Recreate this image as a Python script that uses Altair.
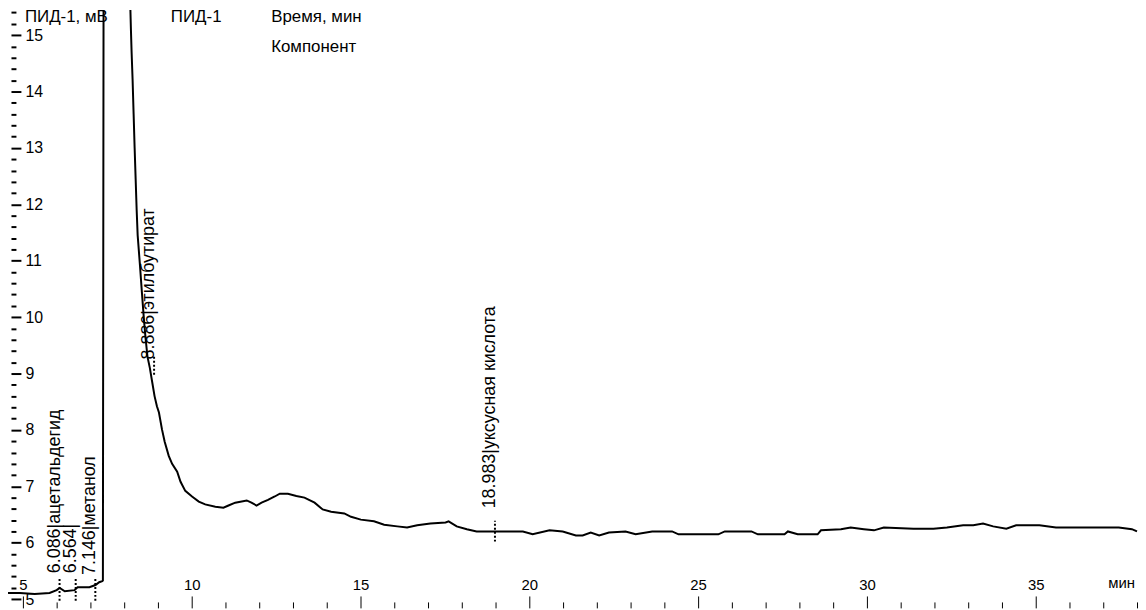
import altair as alt
import pandas as pd

# ---- chromatogram trace (time, min / signal, mV) ----
time_min = [4.56, 4.91, 5.35, 5.79, 6.00, 6.09, 6.24, 6.53, 6.62, 6.97, 7.15, 7.26, 7.35, 7.37,
            7.39, 8.16, 8.20, 8.22, 8.25, 8.28, 8.31, 8.34, 8.37, 8.40, 8.47, 8.53, 8.58, 8.63,
            8.69, 8.76, 8.83, 8.90, 8.97, 9.03, 9.12, 9.20, 9.32, 9.42, 9.57, 9.67, 9.81, 10.01,
            10.21, 10.40, 10.70, 10.94, 11.09, 11.29, 11.63, 11.77, 11.92, 12.07, 12.26, 12.46,
            12.61, 12.85, 13.10, 13.34, 13.64, 13.88, 14.13, 14.52, 14.72, 15.01, 15.40, 15.70,
            16.09, 16.38, 16.68, 17.07, 17.52, 17.61, 17.85, 18.15, 18.44, 18.88, 19.22, 19.81,
            20.10, 20.60, 20.99, 21.38, 21.58, 21.82, 22.07, 22.36, 22.85, 23.15, 23.64, 24.23,
            24.42, 25.60, 25.79, 26.58, 26.77, 27.56, 27.66, 27.95, 28.54, 28.64, 29.23, 29.52,
            29.91, 30.21, 30.50, 31.38, 31.97, 32.37, 32.85, 33.15, 33.44, 33.74, 34.13, 34.42,
            35.11, 35.60, 36.09, 36.87, 37.46, 37.85, 38.00]
signal_mv = [5.11, 5.11, 5.09, 5.11, 5.16, 5.20, 5.14, 5.16, 5.21, 5.21, 5.25, 5.30, 5.32, 5.33,
             16.0, 16.0, 15.10, 14.70, 14.20, 13.60, 13.00, 12.45, 11.90, 11.45, 10.90, 10.40,
             10.00, 9.65, 9.30, 9.10, 8.85, 8.60, 8.42, 8.31, 8.01, 7.79, 7.54, 7.40, 7.26, 7.08,
             6.92, 6.82, 6.73, 6.68, 6.64, 6.62, 6.66, 6.71, 6.75, 6.71, 6.66, 6.71, 6.76, 6.82,
             6.87, 6.87, 6.83, 6.80, 6.71, 6.59, 6.55, 6.52, 6.46, 6.41, 6.38, 6.32, 6.29, 6.27,
             6.31, 6.34, 6.36, 6.38, 6.29, 6.24, 6.20, 6.20, 6.20, 6.20, 6.15, 6.22, 6.20, 6.13,
             6.13, 6.18, 6.13, 6.18, 6.20, 6.15, 6.20, 6.20, 6.15, 6.15, 6.20, 6.20, 6.15, 6.15,
             6.20, 6.15, 6.15, 6.22, 6.24, 6.27, 6.24, 6.22, 6.27, 6.25, 6.25, 6.27, 6.31, 6.31,
             6.34, 6.29, 6.25, 6.31, 6.31, 6.27, 6.27, 6.27, 6.27, 6.24, 6.20]

# ---- identified peaks ----
peak_rt = [6.086, 6.564, 7.146, 8.886, 18.983]
peak_name = ["ацетальдегид", "", "метанол", "этилбутират", "уксусная кислота"]
label_start_mv = [5.46, 5.46, 5.43, 9.25, 6.61]
marker_low_mv = [4.97, 4.97, 4.97, 8.98, 6.02]
marker_high_mv = [5.37, 5.37, 5.37, 9.33, 6.39]

# ---- axes ----
x_ticks = list(range(5, 39))          # every minute, labels every 5
y_ticks = [round(5 + 0.2 * i, 1) for i in range(0, 53)]   # every 0.2 mV, labels every 1
X_DOMAIN = [4.559, 38.03]
Y_DOMAIN = [4.845, 15.444]

header_text = ["ПИД-1, мВ", "ПИД-1", "Время, мин", "Компонент"]
header_px = [17, 164, 265, 265]
header_py = [7, 7, 7, 37]

W, H = 1138, 602
FONT = "Liberation Sans"

trace = pd.DataFrame({"time": time_min, "signal": signal_mv})
peaks = pd.DataFrame({
    "rt": peak_rt,
    "label": [f"{rt:.3f}|{n}" for rt, n in zip(peak_rt, peak_name)],
    "start": label_start_mv,
    "low": marker_low_mv,
    "high": marker_high_mv,
})

xs = alt.Scale(domain=X_DOMAIN, nice=False, zero=False)
ys = alt.Scale(domain=Y_DOMAIN, nice=False, zero=False)

Y_MAJOR = "abs(datum.value - round(datum.value)) < 0.01"

x_axis = alt.Axis(
    orient="top", offset=-H, values=x_ticks, tickCount=500, domain=False, grid=False, title=None,
    labelExpr="datum.value % 5 === 0 ? format(datum.value, 'd') : ''", labelOverlap=False,
    tickSize={"condition": {"test": "datum.value % 5 === 0", "value": 12}, "value": 6},
    tickColor="black", tickWidth=1, labelColor="black", labelFont=FONT,
    labelFontSize=15, labelPadding=4, labelAngle=0)
y_axis = alt.Axis(
    orient="right", offset=-(W - 3), values=y_ticks, tickCount=500, domain=False, grid=False,
    title=None, labelOverlap=False,
    labelExpr=f"{Y_MAJOR} ? format(datum.value, 'd') : ''",
    tickSize={"condition": {"test": Y_MAJOR, "value": 10}, "value": 5},
    tickColor="black", tickWidth=2, labelColor="black", labelFont=FONT,
    labelFontSize=16, labelPadding=4)

line = alt.Chart(trace).mark_line(color="black", strokeWidth=2, clip=True).encode(
    x=alt.X("time:Q", scale=xs, axis=x_axis),
    y=alt.Y("signal:Q", scale=ys, axis=y_axis),
    order=alt.Order("time:Q"),
)

markers = alt.Chart(peaks).mark_rule(color="black", strokeWidth=2, strokeDash=[2, 2]).encode(
    x=alt.X("rt:Q", scale=xs, axis=x_axis),
    y=alt.Y("low:Q", scale=ys, axis=y_axis),
    y2="high:Q",
)

labels = alt.Chart(peaks).mark_text(
    angle=270, align="left", baseline="alphabetic", font=FONT, fontSize=18, color="black"
).encode(
    x=alt.X("rt:Q", scale=xs, axis=x_axis),
    y=alt.Y("start:Q", scale=ys, axis=y_axis),
    text="label:N",
)

layers = [line, markers, labels]
for t, px, py in zip(header_text, header_px, header_py):
    layers.append(
        alt.Chart(pd.DataFrame({"t": [t]})).mark_text(
            align="left", baseline="middle", font=FONT, fontSize=17, color="black"
        ).encode(x=alt.value(px), y=alt.value(py), text="t:N")
    )
layers.append(
    alt.Chart(pd.DataFrame({"t": ["мин"]})).mark_text(
        align="right", baseline="middle", font=FONT, fontSize=15, color="black"
    ).encode(x=alt.value(W - 3), y=alt.value(H - 25), text="t:N")
)

chart = alt.layer(*layers).properties(
    width=W, height=H, autosize=alt.AutoSizeParams(type="none"), padding=0,
    background="white",
).configure_view(stroke=None)

chart.save("out.html", embed_options={"renderer": "svg", "actions": False})
